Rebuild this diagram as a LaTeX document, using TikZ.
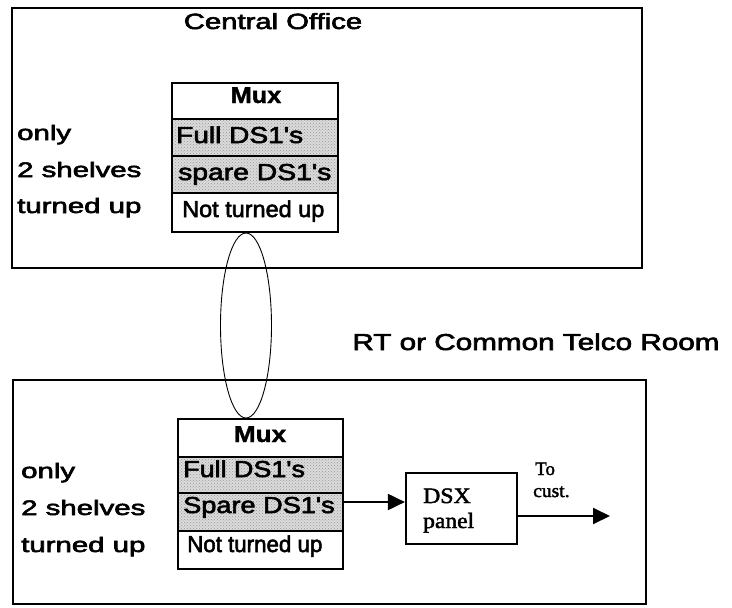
\documentclass[tikz,border=0pt]{standalone}
\usepackage{fontspec}
\setmainfont{Liberation Sans}[FakeBold=2.5]
\newfontfamily\rowsans{Liberation Sans}[FakeBold=2.5, Ligatures=ResetAll]
\newfontfamily\heavysans{Liberation Sans Bold}[FakeBold=1.5]
\newfontfamily\serifface{Liberation Serif}[FakeBold=2]
\usetikzlibrary{shapes.geometric,arrows.meta,patterns}
% horizontally widened text
\newcommand\hstretch[2]{\scalebox{#1}[1]{#2}}

\tikzset{
  room/.style={draw, line width=2.4pt, inner sep=0pt},
  cell/.style={draw, line width=1.6pt, inner sep=0pt, minimum width=#1},
  cell/.default=166pt,
  used/.style={preaction={fill=gray!28}, pattern=crosshatch dots, pattern color=gray!80},
  lbl/.style={inner sep=0pt, anchor=base west},
  title/.style={inner sep=0pt, anchor=base, font=\fontsize{22}{26}\selectfont},
  side/.style={lbl, font=\fontsize{21}{25}\selectfont},
  muxhead/.style={inner sep=0pt, anchor=base, font=\heavysans\fontsize{23}{27}\selectfont},
  row/.style={lbl, font=\rowsans\fontsize{23}{27}\selectfont},
  serifl/.style={lbl, font=\serifface\fontsize{22}{26}\selectfont},
  arr/.style={line width=2pt, -{Triangle[length=17pt,width=16pt]}},
}

\begin{document}
\begin{tikzpicture}[x=1pt, y=-1pt]
\useasboundingbox (0,0) rectangle (732,608);

% ---- Central office -------------------------------------------------
\node[room, minimum width=630pt, minimum height=260pt] (co) at (327,138) {};
\node[title] (coTitle) at (273,29) {\hstretch{1.33}{Central Office}};

\node[side] (coS1) at (17,140) {\hstretch{1.4}{only}};
\node[side] (coS2) at (17,177) {\hstretch{1.4}{2 shelves}};
\node[side] (coS3) at (17,213) {\hstretch{1.4}{turned up}};

\node[cell, minimum height=36pt] (coMux)  at (255,101)   {};
\node[cell, used, minimum height=37pt] (coFull) at (255,137.5) {};
\node[cell, used, minimum height=37pt] (coSpare) at (255,174.5) {};
\node[cell, minimum height=39pt] (coNot) at (255,212.5) {};

\node[muxhead] (coMuxT) at (256,103) {\hstretch{1.1}{Mux}};
\node[row] (coFullT)  at (176,143) {\hstretch{1.22}{Full DS1's}};
\node[row] (coSpareT) at (178,180) {\hstretch{1.23}{spare DS1's}};
\node[row] (coNotT)   at (182,217) {\hstretch{1.02}{Not turned up}};

% ---- Remote terminal room -------------------------------------------
\node[title, font=\fontsize{23}{27}\selectfont] (rtTitle) at (536,350)
  {\hstretch{1.29}{RT or Common Telco Room}};
\node[room, minimum width=633pt, minimum height=224pt] (rt) at (329.5,492) {};

\node[side] (rtS1) at (21,478) {\hstretch{1.4}{only}};
\node[side] (rtS2) at (21,515) {\hstretch{1.4}{2 shelves}};
\node[side] (rtS3) at (21,552) {\hstretch{1.4}{turned up}};

\node[cell=165pt, minimum height=38pt] (rtMux)  at (260.5,438) {};
\node[cell=165pt, used, minimum height=36pt] (rtFull) at (260.5,475) {};
\node[cell=165pt, used, minimum height=38pt] (rtSpare) at (260.5,512) {};
\node[cell=165pt, minimum height=38pt] (rtNot) at (260.5,550) {};

\node[muxhead] (rtMuxT) at (260,442) {\hstretch{1.14}{Mux}};
\node[row] (rtFullT)  at (183,477) {\hstretch{1.17}{Full DS1's}};
\node[row] (rtSpareT) at (183,513) {\hstretch{1.18}{Spare DS1's}};
\node[row] (rtNotT)   at (187,552) {\hstretch{0.97}{Not turned up}};

% ---- DSX panel and customer feed ------------------------------------
\node[draw, line width=2.2pt, minimum width=111pt, minimum height=71pt, inner sep=0pt]
  (dsx) at (461.5,508.5) {};
\node[serifl] (dsxT1) at (423,503) {\hstretch{1.08}{DSX}};
\node[serifl] (dsxT2) at (423,528) {\hstretch{1.07}{panel}};

\coordinate (cust) at (610,516);
\node[lbl, font=\serifface\fontsize{19}{23}\selectfont] (toT)   at (535,475) {To};
\node[lbl, font=\serifface\fontsize{19}{23}\selectfont] (custT) at (533,497) {\hstretch{1.03}{cust.}};

\draw[arr] ([yshift=10pt]rtSpare.east) -- ([yshift=10pt]rtSpare.east -| dsx.west);
\draw[arr] ([yshift=-7.5pt]dsx.east) -- (cust);

% ---- Facility bundle between the two muxes --------------------------
\node[draw, ellipse, line width=0.9pt, inner sep=0pt,
      minimum width=51pt, minimum height=185pt] (trunk) at (246,325.5) {};
\end{tikzpicture}
\end{document}
